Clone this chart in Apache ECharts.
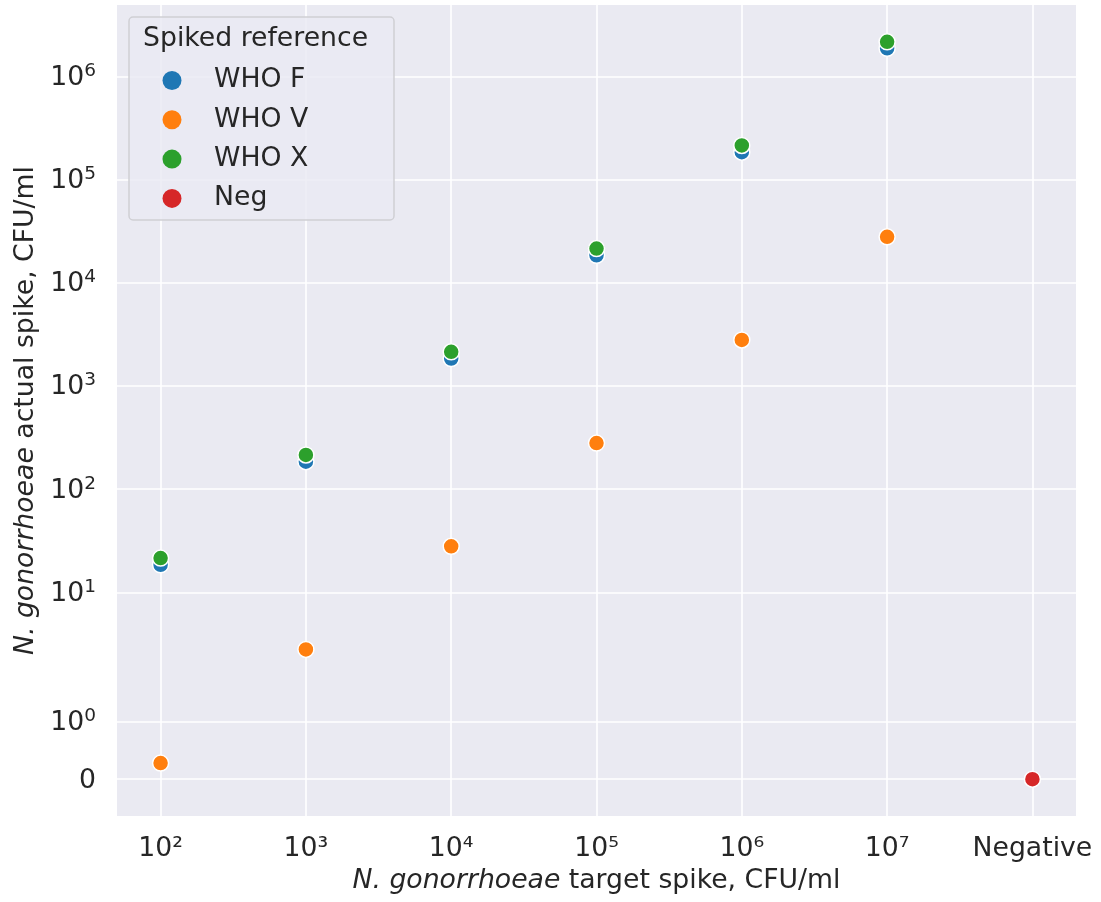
<!DOCTYPE html>
<html>
<head>
<meta charset="utf-8">
<script src="https://cdn.jsdelivr.net/npm/echarts@6/dist/echarts.min.js"></script>
<style>
html,body{margin:0;padding:0;background:#fff;}
#chart{width:1101px;height:902px;}
</style>
</head>
<body>
<div id="chart"></div>
<script>
// ---- data ----
const categories = ['10²', '10³', '10⁴', '10⁵', '10⁶', '10⁷', 'Negative'];
const seriesNames = ['WHO F', 'WHO V', 'WHO X', 'Neg'];
const whoF = [18.5, 185, 1850, 18500, 185000, 1880000];
const whoV = [0.28, 2.8, 28, 280, 2800, 28000];
const whoX = [21.5, 215, 2150, 21500, 215000, 2170000];
const neg = [0];
const whoFx = [0, 1, 2, 3, 4, 5];
const whoVx = [0, 1, 2, 3, 4, 5];
const whoXx = [0, 1, 2, 3, 4, 5];
const negX = [6];
const yTickValues = [0, 1, 10, 100, 1000, 10000, 100000, 1000000];
const yTickLabels = ['0', '10|0', '10|1', '10|2', '10|3', '10|4', '10|5', '10|6'];
const legendTitle = 'Spiked reference';
const xName = ['N. gonorrhoeae', ' target spike, CFU/ml'];
const yName = ['N. gonorrhoeae', ' actual spike, CFU/ml'];
const colors = ['#1f77b4', '#ff7f0e', '#2ca02c', '#d62728'];

// symlog scale (linthresh 2, linscale 1), expressed in decades
const LT = 2, LS = 1 / (1 - 1 / 10);
function sy(v) {
  const a = Math.abs(v), s = v < 0 ? -1 : 1;
  return a <= LT ? v * LS / LT : s * (LS + Math.log10(a / LT));
}
const yT = yTickValues.map(sy);
const yDataMax = sy(Math.max(...whoX, ...whoF));
const yMargin = 0.05 * yDataMax;

function pts(xs, ys) { return ys.map((v, i) => [xs[i], sy(v), v]); }

const FONT = "'DejaVu Sans', sans-serif";
const TXT = '#262626';
const FS = 26.7;

const chart = echarts.init(document.getElementById('chart'));
const mk = (name, data, c) => ({
  name, type: 'scatter', data, symbol: 'circle', symbolSize: 16,
  itemStyle: { color: c, borderColor: '#ffffff', borderWidth: 1.5, opacity: 1 },
  emphasis: { disabled: true }
});

chart.setOption({
  animation: false,
  backgroundColor: '#ffffff',
  grid: { left: 117, right: 25, top: 5, bottom: 86, show: true, backgroundColor: '#eaeaf2', borderWidth: 0 },
  xAxis: {
    type: 'value', min: -0.3, max: 6.3,
    axisLine: { show: false }, axisTick: { show: false, customValues: [0,1,2,3,4,5,6] },
    splitLine: { show: true, lineStyle: { color: '#ffffff', width: 1.6 } },
    axisLabel: {
      customValues: [0,1,2,3,4,5,6], margin: 20, color: TXT, fontSize: FS, fontFamily: FONT,
      formatter: v => categories[Math.round(v)]
    },
    name: '{i|' + xName[0] + '}{n|' + xName[1] + '}', nameLocation: 'middle', nameGap: 52,
    nameTextStyle: {
      color: TXT, fontSize: FS, fontFamily: FONT,
      rich: { i: { fontStyle: 'italic', fontSize: FS, fontFamily: FONT, color: TXT },
              n: { fontSize: FS, fontFamily: FONT, color: TXT } }
    }
  },
  yAxis: {
    type: 'value', min: -yMargin, max: yDataMax + yMargin,
    axisLine: { show: false }, axisTick: { show: false, customValues: yT },
    splitLine: { show: true, lineStyle: { color: '#ffffff', width: 1.6 } },
    axisLabel: {
      customValues: yT, margin: 21, color: TXT, fontSize: FS, fontFamily: FONT,
      formatter: v => {
        let best = 0;
        yT.forEach((t, i) => { if (Math.abs(t - v) < Math.abs(yT[best] - v)) best = i; });
        const parts = yTickLabels[best].split('|');
        return parts.length > 1 ? '{b|' + parts[0] + '}{s|' + parts[1] + '}' : '{b|' + parts[0] + '}';
      },
      rich: {
        b: { fontSize: FS, fontFamily: FONT, color: TXT, verticalAlign: 'bottom', lineHeight: 30 },
        s: { fontSize: 18.5, fontFamily: FONT, color: TXT, verticalAlign: 'top', lineHeight: 20 }
      }
    },
    name: '{i|' + yName[0] + '}{n|' + yName[1] + '}', nameLocation: 'middle', nameGap: 74,
    nameTextStyle: {
      color: TXT, fontSize: FS, fontFamily: FONT,
      rich: { i: { fontStyle: 'italic', fontSize: FS, fontFamily: FONT, color: TXT },
              n: { fontSize: FS, fontFamily: FONT, color: TXT } }
    }
  },
  legend: {
    orient: 'vertical', left: 157.5, top: 62, itemGap: 12.3,
    itemWidth: 19, itemHeight: 19, icon: 'circle',
    itemStyle: { borderWidth: 0 },
    data: seriesNames,
    selectedMode: false,
    textStyle: { color: TXT, fontSize: FS, fontFamily: FONT, lineHeight: 26, padding: [0, 0, 0, 27.5] },
    z: 5
  },
  graphic: [
    { type: 'rect', z: 3, shape: { x: 129, y: 17, width: 265, height: 203, r: 4 },
      style: { fill: 'rgba(234,234,242,0.8)', stroke: '#cfcfd4', lineWidth: 1.5 } },
    { type: 'text', z: 5, x: 143, y: 39,
      style: { text: legendTitle, fill: TXT, font: FS + "px 'DejaVu Sans', sans-serif", align: 'left', verticalAlign: 'middle' } }
  ],
  series: [
    mk(seriesNames[0], pts(whoFx, whoF), colors[0]),
    mk(seriesNames[1], pts(whoVx, whoV), colors[1]),
    mk(seriesNames[2], pts(whoXx, whoX), colors[2]),
    mk(seriesNames[3], pts(negX, neg), colors[3])
  ]
});
</script>
</body>
</html>
